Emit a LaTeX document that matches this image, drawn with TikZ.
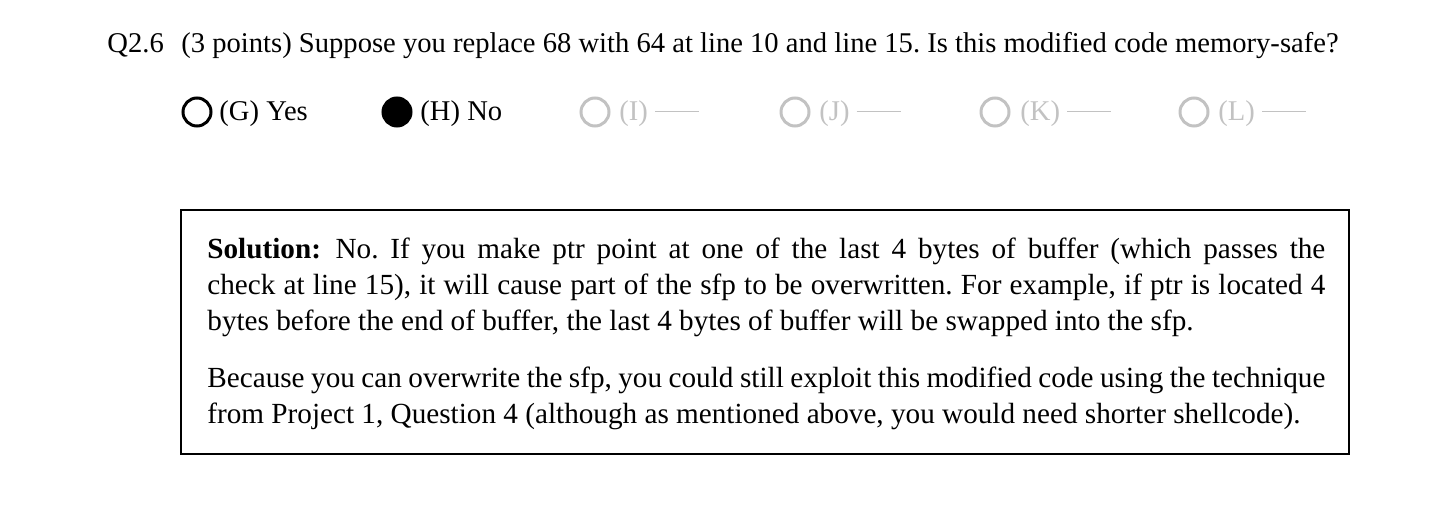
\documentclass[tikz,border=0pt]{standalone}
\usepackage{fontspec}
\setmainfont{Liberation Serif}
\usepackage{xcolor}
\usetikzlibrary{positioning}
\definecolor{faded}{gray}{0.76}
\newcommand{\blankline}{\rule[0.3em]{22pt}{0.5pt}}
\newcommand{\fullline}[1]{\makebox[559pt][s]{#1}}
\newcommand{\solfont}{\fontsize{14.6}{18}\selectfont\frenchspacing
  \spaceskip=0.25em plus 0.2em minus 0.12em\relax}

\begin{document}
\begin{tikzpicture}[x=0.5pt,y=-0.5pt]
            \tikzset{
                txt/.style={inner sep=0pt, anchor=base west, font=\fontsize{14.3}{18}\selectfont},
                bubble/.style={draw, circle, line width=1.5pt, minimum size=14pt, inner sep=0pt},
                picked/.style={bubble, fill=black},
                unused/.style={bubble, draw=faded}
            }
            \useasboundingbox (0,0) rectangle (1446,507);
            % question
            \node[txt] (qnum) at (107,53) {Q2.6};
            \node[txt] (question) at (181,53) {\frenchspacing(3 points) Suppose you replace 68 with 64 at line 10 and line 15. Is this modified code memory-safe?};
            % choices
            \node[bubble] (G) at (197,112) {};
            \node[picked] (H) at (397,112) {};
            \node[unused] (I) at (595,112) {};
            \node[unused] (J) at (795,112) {};
            \node[unused] (K) at (995,112) {};
            \node[unused] (L) at (1194,112) {};
            \node[txt] (Gtext) at (219,121) {(G) Yes};
            \node[txt] (Htext) at (420,121) {(H) No};
            \node[txt, text=faded] (Itext) at (619,121) {(I) \blankline};
            \node[txt, text=faded] (Jtext) at (819,121) {(J) \blankline};
            \node[txt, text=faded] (Ktext) at (1020,121) {(K) \blankline};
            \node[txt, text=faded] (Ltext) at (1218,121) {(L) \blankline};
            % solution box
            \draw[line width=0.6pt] (181,210) rectangle (1349,454);
            \node[txt, font=\solfont, align=left, anchor=north west] (solution) at (207,238) {%
\fullline{\textbf{Solution:}\enspace No. If you make ptr point at one of the last 4 bytes of buffer (which passes the}\\
\fullline{check at line 15), it will cause part of the sfp to be overwritten. For example, if ptr is located 4}\\
bytes before the end of buffer, the last 4 bytes of buffer will be swapped into the sfp.\\[10.5pt]
\fullline{Because you can overwrite the sfp, you could still exploit this modified code using the technique}\\
from Project 1, Question 4 (although as mentioned above, you would need shorter shellcode).};
        \end{tikzpicture}
\end{document}
